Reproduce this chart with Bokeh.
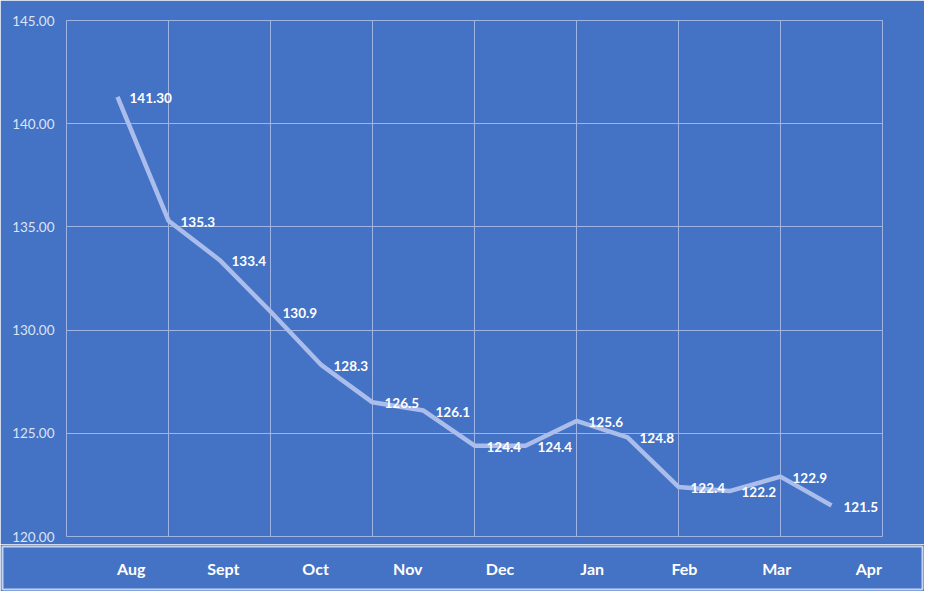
import numpy as np
from bokeh.plotting import figure
from bokeh.models import Range1d, FixedTicker, NumeralTickFormatter, ColumnDataSource
from bokeh.layouts import column
from bokeh.core.properties import value
from bokeh.embed import file_html
from bokeh.resources import INLINE

# ---- data ----
months = ["Aug", "Sept", "Oct", "Nov", "Dec", "Jan", "Feb", "Mar", "Apr"]
values = [141.30, 135.3, 133.4, 130.9, 128.3, 126.5, 126.1, 124.4, 124.4,
          125.6, 124.8, 122.4, 122.2, 122.9, 121.5]
value_labels = ["141.30", "135.3", "133.4", "130.9", "128.3", "126.5", "126.1",
                "124.4", "124.4", "125.6", "124.8", "122.4", "122.2", "122.9", "121.5"]
y_ticks = [120, 125, 130, 135, 140, 145]

BG = "#4472C4"
GRID = "#9FB4E4"
LINE = "#ABBDEA"
FONT = "Lato"

pos = list(range(1, len(values) + 1))
src = ColumnDataSource(dict(x=pos, y=values, t=value_labels))

p = figure(width=924, height=544, output_backend="svg", toolbar_location=None,
           x_range=Range1d(0, 16), y_range=Range1d(120, 145),
           min_border_left=66, min_border_right=42, min_border_top=20,
           min_border_bottom=8)
p.frame_align = False
p.background_fill_color = BG
p.border_fill_color = BG
p.outline_line_color = GRID
p.outline_line_width = 1

p.xaxis.visible = False
p.xgrid.ticker = FixedTicker(ticks=list(range(0, 17, 2)))
p.xgrid.grid_line_color = GRID
p.ygrid.grid_line_color = GRID
p.ygrid.ticker = FixedTicker(ticks=y_ticks)

ya = p.yaxis[0]
ya.ticker = FixedTicker(ticks=y_ticks)
ya.formatter = NumeralTickFormatter(format="0.00")
ya.axis_line_color = None
ya.major_tick_line_color = None
ya.minor_tick_line_color = None
ya.major_tick_out = 0
ya.major_label_standoff = 12
ya.major_label_text_color = "#DCE4F5"
ya.major_label_text_font = FONT
ya.major_label_text_font_size = "13.5px"

p.line("x", "y", source=src, line_color=LINE, line_width=4.5)
p.text("x", "y", text="t", source=src, x_offset=12, y_offset=1,
       text_align="left", text_baseline="middle", text_color="white",
       text_font=value(FONT), text_font_style="bold", text_font_size="13.5px")

# ---- bottom band with month labels ----
mx = list(range(len(months)))
msrc = ColumnDataSource(dict(x=mx, y=[0.5] * len(months), t=months))
b = figure(width=924, height=47, output_backend="svg", toolbar_location=None,
           x_range=Range1d(-1.396, 8.582), y_range=Range1d(0, 1),
           min_border_left=2, min_border_right=2, min_border_top=2,
           min_border_bottom=2)
b.frame_align = False
b.background_fill_color = BG
b.border_fill_color = BG
b.outline_line_color = "#C5D3F0"
b.outline_line_width = 2
b.axis.visible = False
b.grid.visible = False
b.text("x", "y", text="t", source=msrc, text_align="center",
       text_baseline="middle", text_color="white", text_font=value(FONT),
       text_font_style="bold", text_font_size="16px")

layout = column(p, b, spacing=0)
open("out.html", "w").write(file_html(layout, INLINE))
